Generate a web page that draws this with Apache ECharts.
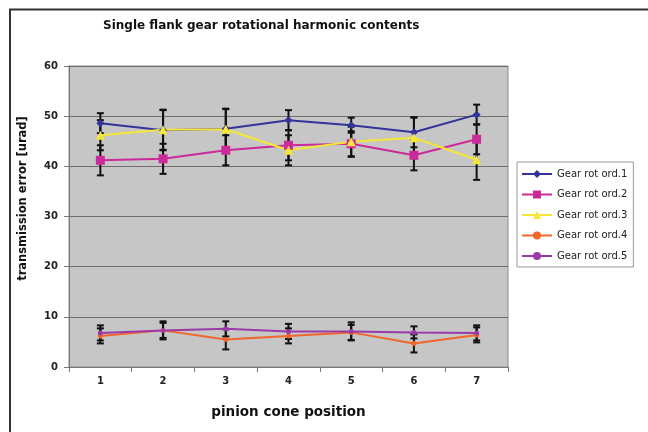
<!DOCTYPE html>
<html><head><meta charset="utf-8">
<script src="https://cdn.jsdelivr.net/npm/echarts@6/dist/echarts.min.js"></script>
<style>html,body{margin:0;padding:0;background:#fff}#c{width:648px;height:432px}</style>
</head><body><div id="c"></div>
<script>
const categories = ['1','2','3','4','5','6','7'];
const seriesNames = ['Gear rot ord.1','Gear rot ord.2','Gear rot ord.3','Gear rot ord.4','Gear rot ord.5'];
const ord1 = [48.6, 47.2, 47.5, 49.2, 48.2, 46.8, 50.3];
const ord2 = [41.2, 41.5, 43.2, 44.2, 44.5, 42.2, 45.4];
const ord3 = [46.2, 47.3, 47.4, 43.2, 44.9, 45.7, 41.3];
const ord4 = [6.2, 7.3, 5.5, 6.2, 6.9, 4.7, 6.4];
const ord5 = [6.8, 7.3, 7.6, 7.1, 7.1, 6.9, 6.8];
const err1 = [2.0, 4.0, 4.0, 2.0, 1.5, 3.0, 2.0];
const err2 = [3.0, 3.0, 3.0, 3.0, 2.5, 3.0, 3.0];
const err3 = [3.0, 4.0, 4.0, 3.0, 3.0, 4.0, 4.0];
const err4 = [1.5, 1.5, 2.0, 1.5, 1.5, 1.8, 1.5];
const err5 = [1.5, 1.8, 1.5, 1.5, 1.8, 1.2, 1.5];
const colors = ['#33339a', '#cc2a9a', '#f5e63a', '#f2662a', '#9a3aa8'];

const values = [ord1, ord2, ord3, ord4, ord5];
const errs = [err1, err2, err3, err4, err5];

const errData = [];
values.forEach((v, s) => v.forEach((y, i) => errData.push([i, y - errs[s][i], y + errs[s][i]])));

const font = '"DejaVu Sans", "Liberation Sans", sans-serif';
const chart = echarts.init(document.getElementById('c'));
const lineSeries = values.map((v, s) => ({
  name: seriesNames[s], type: 'line', data: v,
  symbol: ['diamond','rect','triangle','circle','circle'][s],
  symbolSize: [8,9,9,5,5][s],
  lineStyle: {color: colors[s], width: 2},
  itemStyle: {color: colors[s]},
  z: 3
}));
chart.setOption({
  animation: false,
  textStyle: {fontFamily: font},
  graphic: [{type: 'rect', shape: {x: 10, y: 9.5, width: 640, height: 430}, style: {fill: 'none', stroke: '#333', lineWidth: 2}, silent: true}],
  title: {text: 'Single flank gear rotational harmonic contents', left: 98, top: 15,
    textStyle: {fontSize: 12, fontWeight: 'bold', color: '#111', fontFamily: font}},
  legend: {
    data: seriesNames, orient: 'vertical', left: 517, top: 162,
    backgroundColor: '#fff', borderColor: '#999', borderWidth: 1, padding: [7, 6, 6, 4],
    itemWidth: 30, itemHeight: 10, itemGap: 10.5,
    textStyle: {fontSize: 10, color: '#222', fontFamily: font}
  },
  grid: {left: 69, right: 140, top: 66, bottom: 65, show: true, backgroundColor: '#c6c6c6', borderColor: '#8a8a8a', borderWidth: 1},
  xAxis: {
    type: 'category', data: categories, boundaryGap: true,
    name: 'pinion cone position', nameLocation: 'middle', nameGap: 38,
    nameTextStyle: {fontSize: 13.5, fontWeight: 'bold', color: '#111', fontFamily: font},
    axisLine: {lineStyle: {color: '#777'}},
    axisTick: {show: true, lineStyle: {color: '#777'}},
    axisLabel: {fontSize: 10, fontWeight: 'bold', color: '#222', margin: 9, fontFamily: font}
  },
  yAxis: {
    type: 'value', min: 0, max: 60, interval: 10,
    name: 'transmission error [urad]', nameLocation: 'middle', nameGap: 40,
    nameTextStyle: {fontSize: 11.5, fontWeight: 'bold', color: '#111', fontFamily: font, padding: [0, 0, 0, 36]},
    axisLine: {show: true, lineStyle: {color: '#777'}},
    axisTick: {show: true, lineStyle: {color: '#777'}},
    axisLabel: {fontSize: 10, fontWeight: 'bold', color: '#222', margin: 11, fontFamily: font},
    splitLine: {lineStyle: {color: '#6e6e6e', width: 1}}
  },
  series: [{
    type: 'custom', name: 'err', data: errData, z: 2, silent: true,
    renderItem: function (params, api) {
      const lo = api.coord([api.value(0), api.value(1)]);
      const hi = api.coord([api.value(0), api.value(2)]);
      const w = 3.5;
      const st = {stroke: '#111', lineWidth: 2};
      return {type: 'group', children: [
        {type: 'line', shape: {x1: lo[0], y1: lo[1], x2: hi[0], y2: hi[1]}, style: st},
        {type: 'line', shape: {x1: lo[0]-w, y1: lo[1], x2: lo[0]+w, y2: lo[1]}, style: st},
        {type: 'line', shape: {x1: hi[0]-w, y1: hi[1], x2: hi[0]+w, y2: hi[1]}, style: st}
      ]};
    }
  }].concat(lineSeries)
});
</script></body></html>
